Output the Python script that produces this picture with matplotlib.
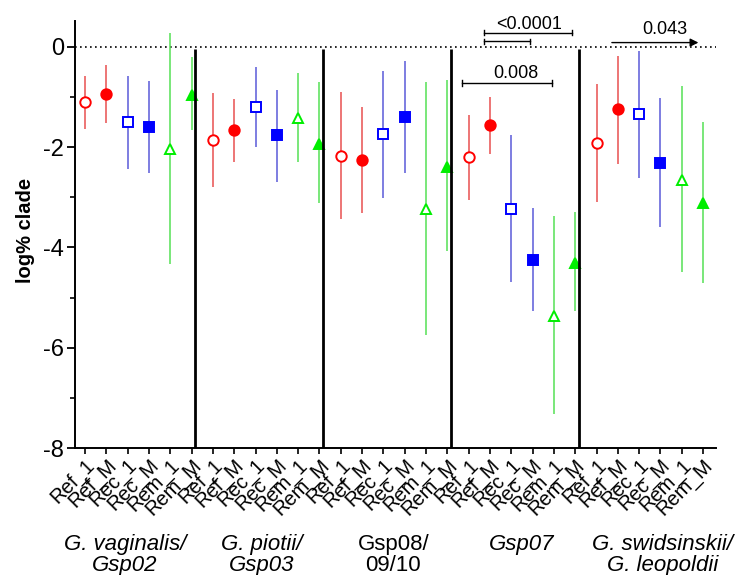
import matplotlib
matplotlib.use("Agg")
import matplotlib.pyplot as plt
import matplotlib.transforms as mtransforms
import numpy as np

plt.rcParams['font.family'] = ['Liberation Sans', 'DejaVu Sans']

conditions = ['Ref_1', 'Ref_M', 'Rec_1', 'Rec_M', 'Rem_1', 'Rem_M']
groups = ['G. vaginalis/\nGsp02', 'G. piotii/\nGsp03', 'Gsp08/\n09/10', 'Gsp07',
          'G. swidsinskii/\nG. leopoldii']
group_italic = [True, True, False, True, True]

# values per group, in condition order
means = [
    [-1.11, -0.94, -1.50, -1.61, -2.04, -0.96],
    [-1.86, -1.67, -1.20, -1.77, -1.42, -1.94],
    [-2.17, -2.26, -1.75, -1.40, -3.24, -2.39],
    [-2.20, -1.57, -3.23, -4.24, -5.37, -4.30],
    [-1.92, -1.25, -1.35, -2.32, -2.65, -3.12],
]
upper = [
    [-0.58, -0.36, -0.58, -0.69, 0.27, -0.21],
    [-0.93, -1.05, -0.40, -0.86, -0.52, -0.70],
    [-0.91, -1.21, -0.48, -0.28, -0.71, -0.66],
    [-1.36, -1.01, -1.77, -3.22, -3.37, -3.29],
    [-0.75, -0.18, -0.09, -1.03, -0.78, -1.51],
]
lower = [
    [-1.65, -1.53, -2.43, -2.52, -4.32, -1.67],
    [-2.80, -2.30, -2.00, -2.70, -2.30, -3.12],
    [-3.43, -3.32, -3.01, -2.52, -5.74, -4.08],
    [-3.05, -2.14, -4.69, -5.27, -7.32, -5.27],
    [-3.10, -2.34, -2.62, -3.60, -4.48, -4.71],
]

yticks_major = [0, -2, -4, -6, -8]
yticks_minor = [-1, -3, -5, -7]

styles = {
    'Ref_1': dict(marker='o', color='#ff0000', ecolor='#e85050', filled=False),
    'Ref_M': dict(marker='o', color='#ff0000', ecolor='#e85050', filled=True),
    'Rec_1': dict(marker='s', color='#0000ff', ecolor='#5a5ad8', filled=False),
    'Rec_M': dict(marker='s', color='#0000ff', ecolor='#5a5ad8', filled=True),
    'Rem_1': dict(marker='^', color='#00ee00', ecolor='#55e055', filled=False),
    'Rem_M': dict(marker='^', color='#00ee00', ecolor='#55e055', filled=True),
}

fig = plt.figure(figsize=(7.35, 5.75), dpi=100)
ax = fig.add_axes([0.102, 0.2203, 0.872, 0.7432])

n = len(conditions)
xpos = []
xlabels = []
for g in range(len(groups)):
    for c, cond in enumerate(conditions):
        x = g * n + c
        xpos.append(x)
        xlabels.append(cond)
        m = means[g][c]
        lo = lower[g][c]
        hi = upper[g][c]
        st = styles[cond]
        ax.errorbar([x], [m], yerr=[[m - lo], [hi - m]], fmt='none',
                    ecolor=st['ecolor'], elinewidth=1.1, capsize=0, zorder=2)
        ms = 7.5 if st['marker'] == 'o' else (7 if st['marker'] == 's' else 7.5)
        ax.plot([x], [m], linestyle='none', marker=st['marker'], markersize=ms,
                markeredgecolor=st['color'], markeredgewidth=1.4,
                markerfacecolor=st['color'] if st['filled'] else 'white', zorder=3)

# dividers
for g in range(1, len(groups)):
    xd = g * n - 1 + 0.16
    ax.plot([xd, xd], [-0.05, -8], color='black', lw=2.0, zorder=4, solid_capstyle='butt')

# zero line
ax.axhline(0, color='black', lw=1.2, linestyle=(0, (1, 2)), zorder=1)

ax.set_xlim(-0.47, 29.6)
ax.set_ylim(-8, 0.51)
ax.set_yticks(yticks_major)
ax.set_yticklabels([str(v) for v in yticks_major], fontsize=17)
ax.set_yticks(yticks_minor, minor=True)
ax.set_xticks(xpos)
ax.set_xticklabels(xlabels, rotation=45, ha='right', va='top',
                   rotation_mode='anchor', fontsize=14.5)
ax.tick_params(axis='x', direction='out', length=4, width=1.2, pad=1)
ax.tick_params(axis='y', which='major', direction='out', length=6, width=1.3, pad=2)
ax.tick_params(axis='y', which='minor', direction='out', length=3.5, width=1.2)
for s in ['top', 'right']:
    ax.spines[s].set_visible(False)
for s in ['left', 'bottom']:
    ax.spines[s].set_linewidth(1.4)
ax.set_ylabel('log% clade', fontsize=14.5, fontweight='bold', labelpad=3)
ax.yaxis.set_label_coords(-0.062, 0.51)

# significance annotations
def bracket(x0, x1, y, h=0.05):
    ax.plot([x0, x1], [y, y], color='black', lw=1.0, clip_on=False)
    for xx in (x0, x1):
        ax.plot([xx, xx], [y - h, y + h], color='black', lw=1.0, clip_on=False)

bracket(18.73, 22.86, 0.28)
bracket(18.73, 20.88, 0.11)
ax.text(20.85, 0.44, '<0.0001', ha='center', va='center', fontsize=13)
bracket(17.71, 21.92, -0.72, 0.06)
ax.text(20.22, -0.53, '0.008', ha='center', va='center', fontsize=13)
ax.annotate('', xy=(28.78, 0.08), xytext=(24.72, 0.08),
            arrowprops=dict(arrowstyle='-|>', color='black', lw=1.0,
                            mutation_scale=12, shrinkA=0, shrinkB=0),
            annotation_clip=False)
ax.text(27.2, 0.34, '0.043', ha='center', va='center', fontsize=13)

# group labels
trans = mtransforms.blended_transform_factory(ax.transData, fig.transFigure)
label_x = [1.88, 8.3, 14.46, 20.5, 27.1]
for gx, name, it in zip(label_x, groups, group_italic):
    ax.text(gx, 0.072, name, transform=trans, ha='center', va='top',
            multialignment='center', fontsize=16, linespacing=1.0,
            style='italic' if it else 'normal')

fig.savefig('out.png', dpi=100)
